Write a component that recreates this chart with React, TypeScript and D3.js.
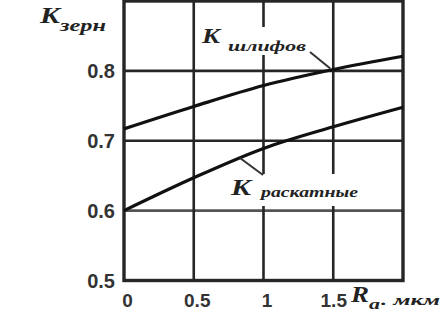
import { useEffect, useRef } from "react";
import * as d3 from "d3";

// roughness Ra, um
const ra = [0, 0.5, 1, 1.5, 2];
// K for ground (шлифов) and rolled (раскатные) surfaces
const kGround = [0.717, 0.749, 0.779, 0.802, 0.821];
const kRolled = [0.6, 0.647, 0.689, 0.72, 0.748];
const yTicks = [0.5, 0.6, 0.7, 0.8];
const xTicks = [0, 0.5, 1, 1.5];
const xTickLabels = ["0", "0.5", "1", "1.5"];

const W = 444;
const H = 316;

const App = (): JSX.Element => {
  const svgRef = useRef<SVGSVGElement | null>(null);

  useEffect(() => {
    if (!svgRef.current) return;
    const svg = d3.select(svgRef.current);
    svg.selectAll("*").remove();

    const x = d3.scaleLinear().domain([0, 2]).range([124, 403]);
    const y = d3.scaleLinear().domain([0.5, 0.9]).range([280.5, 1]);
    const ink = "#262626";

    // grid
    const grid = svg.append("g");
    yTicks.slice(1).forEach((t) => {
      grid.append("line")
        .attr("x1", x(0)).attr("x2", x(2))
        .attr("y1", y(t)).attr("y2", y(t))
        .attr("stroke", t === 0.6 ? "#555" : ink)
        .attr("stroke-width", 2.6);
    });
    xTicks.slice(1).forEach((t) => {
      grid.append("line")
        .attr("x1", x(t)).attr("x2", x(t))
        .attr("y1", y(0.5)).attr("y2", y(0.9))
        .attr("stroke", ink)
        .attr("stroke-width", 2.6);
    });
    grid.append("rect")
      .attr("x", x(0)).attr("y", y(0.9))
      .attr("width", x(2) - x(0)).attr("height", y(0.5) - y(0.9))
      .attr("fill", "none").attr("stroke", ink).attr("stroke-width", 3.4);

    // curves
    const line = d3.line<number>()
      .x((_, i) => x(ra[i]))
      .y((d) => y(d))
      .curve(d3.curveMonotoneX);
    [kGround, kRolled].forEach((s) => {
      svg.append("path")
        .attr("d", line(s) || "")
        .attr("fill", "none")
        .attr("stroke", "#111")
        .attr("stroke-width", 3.2);
    });

    // label boxes that cover the grid
    svg.append("rect").attr("x", 200).attr("y", 27).attr("width", 108).attr("height", 28).attr("fill", "#fff");
    svg.append("rect").attr("x", 227).attr("y", 174).attr("width", 138).attr("height", 32).attr("fill", "#fff");

    // leader lines
    svg.append("line").attr("x1", 310).attr("y1", 52).attr("x2", x(1.5) - 3).attr("y2", y(kGround[3]) - 1)
      .attr("stroke", "#333").attr("stroke-width", 2);
    svg.append("line").attr("x1", 240).attr("y1", 158).attr("x2", 263).attr("y2", 175)
      .attr("stroke", "#333").attr("stroke-width", 2);

    // tick labels
    const tickFont = "'Liberation Sans', Arial, sans-serif";
    svg.append("g").selectAll("text").data(yTicks).enter().append("text")
      .attr("x", 115).attr("y", (d) => y(d) + 7.5)
      .attr("text-anchor", "end")
      .attr("font-family", tickFont).attr("font-weight", "bold").attr("font-size", 20)
      .attr("fill", "#333")
      .text((d) => d.toFixed(1));
    svg.append("g").selectAll("text").data(xTicks).enter().append("text")
      .attr("x", (d) => x(d) + (d === 1.5 ? 0.5 : 3.5)).attr("y", 307)
      .attr("text-anchor", "middle")
      .attr("font-family", tickFont).attr("font-weight", "bold").attr("font-size", 19)
      .attr("fill", "#333")
      .text((_, i) => xTickLabels[i]);

    // italic labels
    const serif = "'Liberation Serif', 'Times New Roman', serif";
    const label = (tx: number, ty: number, txt: string, size: number, len?: number) => {
      const t = svg.append("text")
        .attr("x", tx).attr("y", ty)
        .attr("font-family", serif).attr("font-style", "italic").attr("font-weight", "bold")
        .attr("font-size", size).attr("fill", "#222")
        .text(txt);
      if (len) t.attr("textLength", len).attr("lengthAdjust", "spacingAndGlyphs");
    };
    label(40, 23, "K", 24, 20);
    label(60, 31, "зерн", 16, 46);
    label(202, 43, "K", 21, 18);
    label(228, 51, "шлифов", 15, 78);
    label(231, 195, "K", 24, 20);
    label(261, 197, "раскатные", 15, 97);
    label(351, 302, "R", 24, 18);
    label(369, 309, "a", 15, 11);
    label(381, 305, ". мкм", 14, 59);
  }, []);

  return (
    <svg
      ref={svgRef}
      width={W}
      height={H}
      style={{ position: "absolute", left: 0, top: 0, background: "#fff", display: "block" }}
    />
  );
};

export default App;
